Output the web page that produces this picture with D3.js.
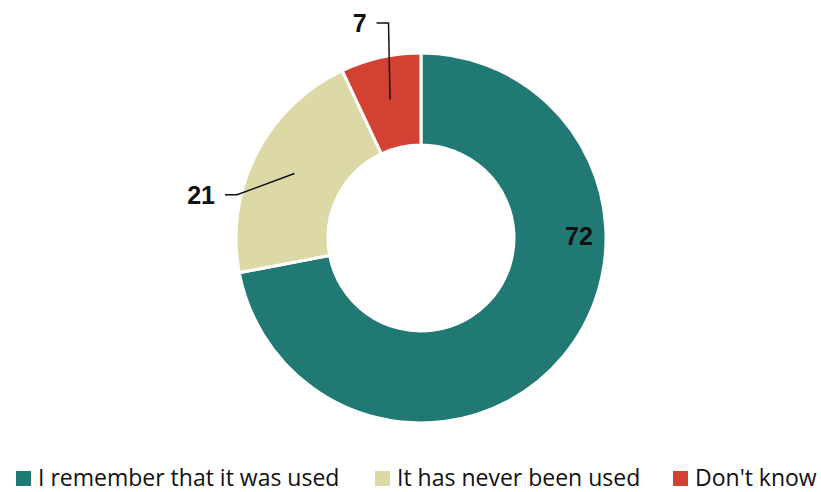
<!DOCTYPE html>
<html>
<head>
<meta charset="utf-8">
<script src="https://cdn.jsdelivr.net/npm/d3@7"></script>
<style>
  body { margin: 0; background: #fff; }
  svg { display: block; }
  .lbl { font-family: "Liberation Sans", Arial, sans-serif; font-weight: bold; font-size: 25px; fill: #111; }
  .leg { font-family: "Open Sans", sans-serif; font-size: 23px; fill: #111; }
</style>
</head>
<body>
<svg id="chart" width="821" height="492"></svg>
<script>
var categories = ['I remember that it was used', 'It has never been used', "Don't know"],
    values = [72, 21, 7],
    colors = ['#207a73', '#ddd9a6', '#d34132'];

var svg = d3.select('#chart'),
    cx = 421, cy = 238,
    outerR = 185, innerR = 93;

var pie = d3.pie().sort(null).value(function (d) { return d; }),
    arcs = pie(values),
    arc = d3.arc().innerRadius(innerR).outerRadius(outerR);

var g = svg.append('g').attr('transform', 'translate(' + cx + ',' + cy + ')');

g.selectAll('path.slice')
    .data(arcs)
    .enter().append('path')
    .attr('class', 'slice')
    .attr('d', arc)
    .attr('fill', function (d, i) { return colors[i]; })
    .attr('stroke', '#fff')
    .attr('stroke-width', 3);

function pt(a, r) { return [Math.sin(a) * r, -Math.cos(a) * r]; }
function mid(d) { return (d.startAngle + d.endAngle) / 2; }
var anchorR = (innerR + outerR) / 2 + 3,
    line = d3.line();

// big slice: label inside, on the right
var p0 = pt(Math.PI / 2, 158);
g.append('text').attr('class', 'lbl')
    .attr('x', p0[0]).attr('y', p0[1] + 7)
    .attr('text-anchor', 'middle')
    .text(values[0]);

// small slices: elbow leaders out to the left
function leader(d, da, er, val) {
    var a = pt(mid(d), anchorR),
        b = pt(mid(d) + da, er),
        c = [b[0] - 12, b[1]];
    g.append('path')
        .attr('d', line([a, b, c]))
        .attr('fill', 'none').attr('stroke', '#111').attr('stroke-width', 1.5);
    g.append('text').attr('class', 'lbl')
        .attr('x', c[0] - 10).attr('y', c[1] + 9)
        .attr('text-anchor', 'end')
        .text(val);
}
leader(arcs[1], -0.24, 189, values[1]);
leader(arcs[2], 0.07, 217.5, values[2]);

// legend
var legX = [16, 375, 673];
var leg = svg.selectAll('g.legend')
    .data(categories)
    .enter().append('g')
    .attr('class', 'legend')
    .attr('transform', function (d, i) { return 'translate(' + legX[i] + ',471)'; });
leg.append('rect').attr('width', 15).attr('height', 15)
    .attr('fill', function (d, i) { return colors[i]; });
leg.append('text').attr('class', 'leg')
    .attr('x', 22).attr('y', 15)
    .text(function (d) { return d; });
</script>
</body>
</html>
